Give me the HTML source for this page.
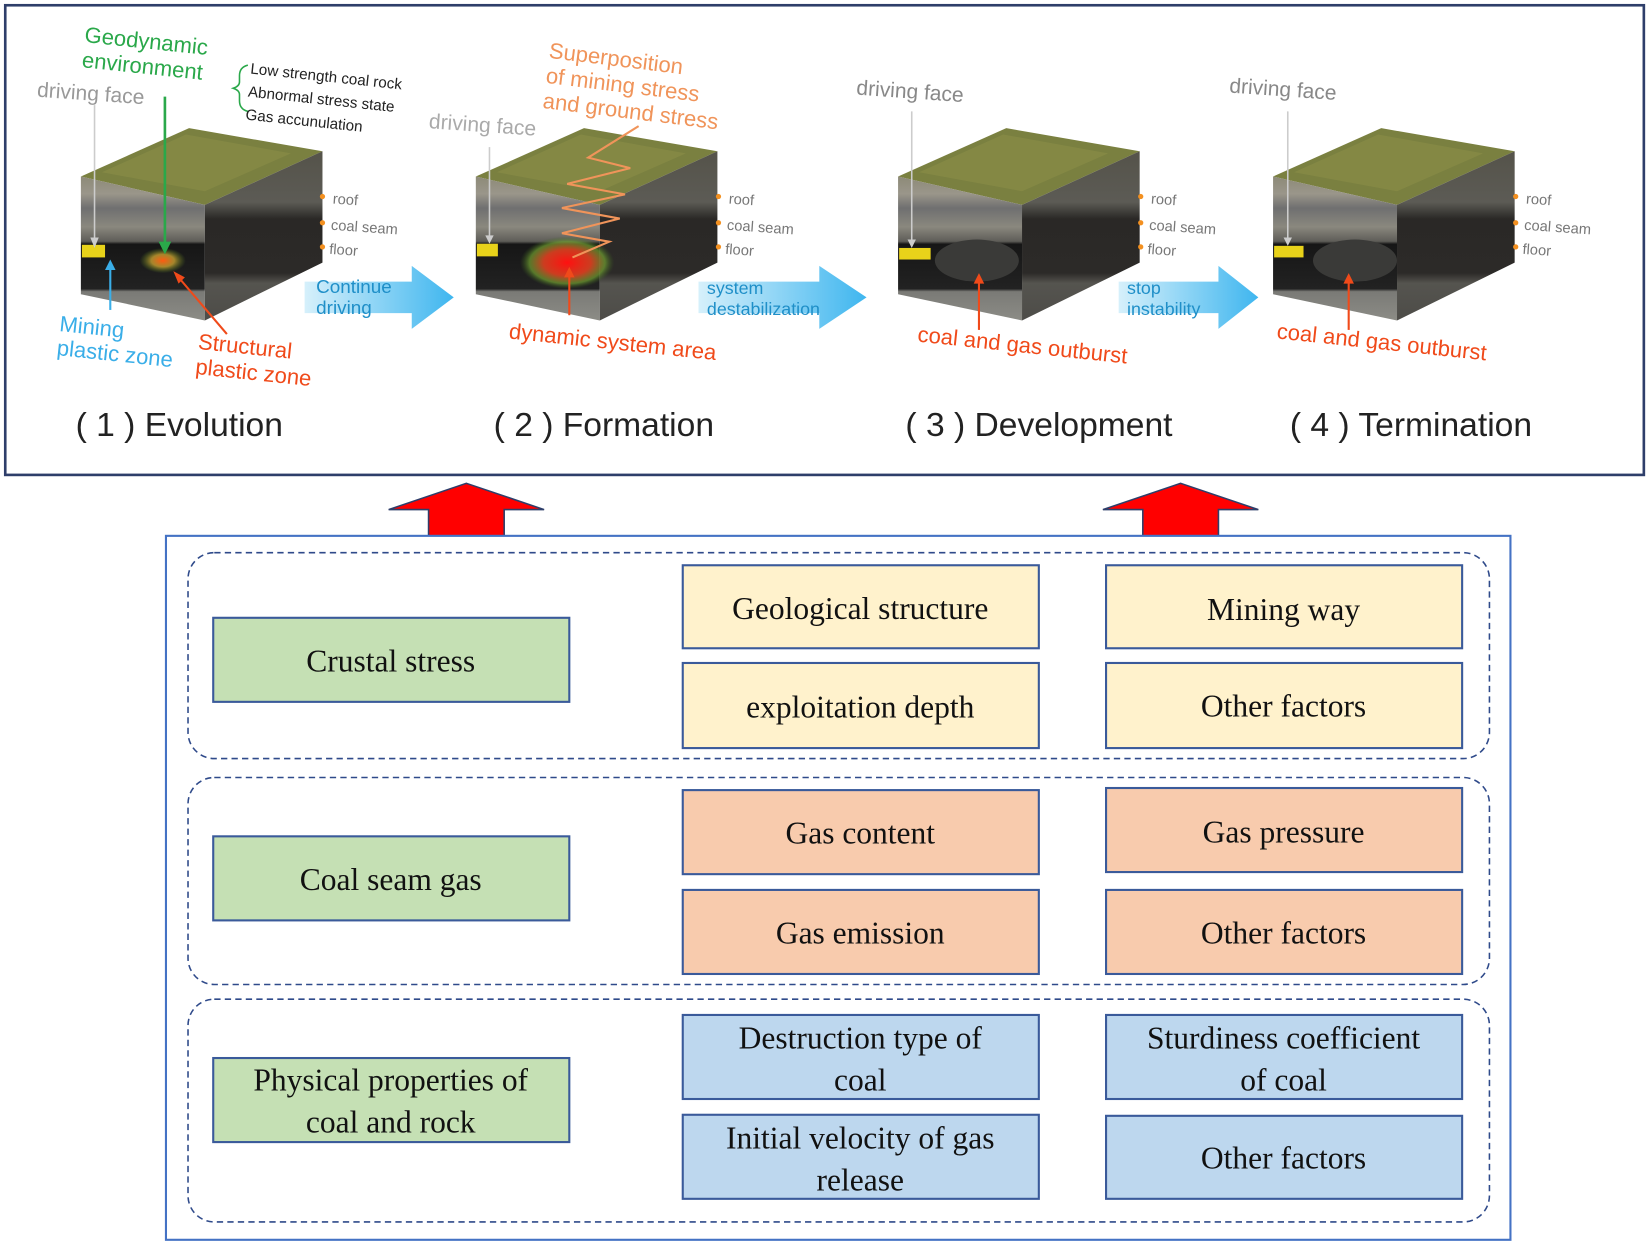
<!DOCTYPE html>
<html><head><meta charset="utf-8"><style>
html,body{margin:0;padding:0;background:#fff;}
svg{display:block;}
.s{font-family:"Liberation Sans",sans-serif;}
.t{font-family:"Liberation Serif",serif;font-size:30px;fill:#111;text-anchor:middle;}
</style></head><body>
<svg width="1647" height="1244" viewBox="0 0 1568 1184" preserveAspectRatio="none" xmlns="http://www.w3.org/2000/svg">
<defs>
<linearGradient id="fr" x1="0" y1="0" x2="0" y2="1">
<stop offset="0" stop-color="#8d8a78"/><stop offset="0.12" stop-color="#9a968a"/>
<stop offset="0.22" stop-color="#6f6f70"/><stop offset="0.35" stop-color="#8a887e"/>
<stop offset="0.45" stop-color="#5e5d58"/><stop offset="0.47" stop-color="#161616"/>
<stop offset="0.78" stop-color="#222"/><stop offset="0.8" stop-color="#7a7a76"/>
<stop offset="1" stop-color="#8c8c86"/></linearGradient>
<linearGradient id="sd" x1="0" y1="0" x2="0" y2="1">
<stop offset="0" stop-color="#55534a"/><stop offset="0.3" stop-color="#5c5b55"/>
<stop offset="0.4" stop-color="#2a2826"/><stop offset="0.72" stop-color="#2c2a28"/>
<stop offset="0.78" stop-color="#55544f"/><stop offset="1" stop-color="#4d4c48"/></linearGradient>
<linearGradient id="ar" x1="0" y1="0" x2="1" y2="0">
<stop offset="0" stop-color="#d6f0fb"/><stop offset="1" stop-color="#3fb6ef"/></linearGradient>
<radialGradient id="hot1"><stop offset="0" stop-color="#ff5a10"/><stop offset="0.5" stop-color="#c8a030" stop-opacity="0.8"/><stop offset="1" stop-color="#5a8a20" stop-opacity="0"/></radialGradient>
<radialGradient id="hot2"><stop offset="0" stop-color="#ff1010"/><stop offset="0.5" stop-color="#e04020" stop-opacity="0.9"/><stop offset="0.8" stop-color="#70a030" stop-opacity="0.7"/><stop offset="1" stop-color="#3a6020" stop-opacity="0"/></radialGradient>
<g id="cube">
<polygon points="0,0 103,-46 230,-24 118,27" fill="#7a8040"/>
<polygon points="20,-4 100,-40 200,-22 118,14" fill="#8a8e48" opacity="0.6"/>
<polygon points="0,0 118,27 118,137 0,112" fill="url(#fr)"/>
<polygon points="118,27 230,-24 230,82 118,137" fill="url(#sd)"/>
</g>
<g id="lbl" class="s" font-size="14" fill="#777">
<circle cx="0" cy="0" r="2.5" fill="#f39020"/><circle cx="0" cy="25" r="2.5" fill="#f39020"/><circle cx="0" cy="48" r="2.5" fill="#f39020"/>
<text x="10" y="6" transform="rotate(4)">roof</text><text x="10" y="31" transform="rotate(4)">coal seam</text><text x="10" y="54" transform="rotate(4)">floor</text>
</g>
</defs>
<rect x="5" y="5" width="1560" height="447" fill="#fff" stroke="#2e3e6a" stroke-width="2.5"/>

<!-- block 1 -->
<use href="#cube" x="77" y="168"/>
<ellipse cx="155" cy="248" rx="22" ry="12" fill="url(#hot1)"/>
<rect x="78" y="233" width="22" height="12" fill="#e8d21a"/>
<use href="#lbl" x="307" y="187"/>
<text class="s" font-size="20" fill="#999" x="35" y="92" transform="rotate(4 35 92)">driving face</text>
<line x1="90" y1="100" x2="90" y2="228" stroke="#ccc" stroke-width="1.5"/><polygon points="86,226 94,226 90,236" fill="#ccc"/>
<text class="s" font-size="21" fill="#2aa84a" transform="rotate(6 80 40)"><tspan x="80" y="40">Geodynamic</tspan><tspan x="80" y="64">environment</tspan></text>
<line x1="157" y1="92" x2="157" y2="232" stroke="#2aa84a" stroke-width="2.5"/><polygon points="151,230 163,230 157,242" fill="#2aa84a"/>
<path d="M236,62 q-8,2 -8,10 v6 q0,4 -6,6 q6,2 6,6 v6 q0,8 8,10" fill="none" stroke="#2aa84a" stroke-width="1.5"/>
<text class="s" font-size="14.5" fill="#222" transform="rotate(6 238 70)"><tspan x="238" y="70">Low strength coal rock</tspan><tspan x="238" y="92">Abnormal stress state</tspan><tspan x="238" y="114">Gas accunulation</tspan></text>
<line x1="105" y1="295" x2="105" y2="255" stroke="#3aaee8" stroke-width="2"/><polygon points="100,257 110,257 105,247" fill="#3aaee8"/>
<text class="s" font-size="21" fill="#3aaee8" transform="rotate(6 56 315)"><tspan x="56" y="315">Mining</tspan><tspan x="56" y="338">plastic zone</tspan></text>
<line x1="216" y1="318" x2="170" y2="264" stroke="#f04a1a" stroke-width="2"/><polygon points="165,258 176,264 170,270" fill="#f04a1a"/>
<text class="s" font-size="21" fill="#f04a1a" transform="rotate(6 188 332)"><tspan x="188" y="332">Structural</tspan><tspan x="188" y="356">plastic zone</tspan></text>
<polygon points="290,268 392,268 392,253 432,283 392,313 392,298 290,298" fill="url(#ar)"/>
<text class="s" font-size="18" fill="#1f8fc8"><tspan x="301" y="279">Continue</tspan><tspan x="301" y="299">driving</tspan></text>
<text class="s" font-size="32" fill="#222" x="72" y="415">( 1 ) Evolution</text>

<!-- block 2 -->
<use href="#cube" x="453" y="168"/>
<ellipse cx="540" cy="250" rx="45" ry="25" fill="url(#hot2)"/>
<rect x="454" y="232" width="20" height="12" fill="#e8d21a"/>
<use href="#lbl" x="684" y="187"/>
<text class="s" font-size="20" fill="#aaa" x="408" y="122" transform="rotate(4 408 122)">driving face</text>
<line x1="466" y1="140" x2="466" y2="226" stroke="#ccc" stroke-width="1.5"/><polygon points="462,224 470,224 466,232" fill="#ccc"/>
<text class="s" font-size="21" fill="#f0945a" transform="rotate(7 522 55)"><tspan x="522" y="55">Superposition</tspan><tspan x="522" y="79">of mining stress</tspan><tspan x="522" y="103">and ground stress</tspan></text>
<path d="M608,120 L560,150 L600,160 L540,175 L595,185 L535,198 L590,208 L535,222 L580,230 L545,245" fill="none" stroke="#f0945a" stroke-width="2"/>
<line x1="542" y1="300" x2="542" y2="262" stroke="#f04a1a" stroke-width="2"/><polygon points="537,264 547,264 542,254" fill="#f04a1a"/>
<text class="s" font-size="21" fill="#f04a1a" x="484" y="322" transform="rotate(6 484 322)">dynamic system area</text>
<polygon points="665,268 780,268 780,253 825,283 780,313 780,298 665,298" fill="url(#ar)"/>
<text class="s" font-size="17" fill="#1f8fc8"><tspan x="673" y="280">system</tspan><tspan x="673" y="300">destabilization</tspan></text>
<text class="s" font-size="32" fill="#222" x="470" y="415">( 2 ) Formation</text>

<!-- block 3 -->
<use href="#cube" x="855" y="168"/>
<ellipse cx="930" cy="248" rx="40" ry="20" fill="#3a3a38"/>
<rect x="856" y="236" width="30" height="11" fill="#e8d21a"/>
<use href="#lbl" x="1086" y="187"/>
<text class="s" font-size="20" fill="#888" x="815" y="90" transform="rotate(4 815 90)">driving face</text>
<line x1="868" y1="106" x2="868" y2="230" stroke="#ccc" stroke-width="1.5"/><polygon points="864,228 872,228 868,236" fill="#ccc"/>
<line x1="932" y1="314" x2="932" y2="268" stroke="#f04a1a" stroke-width="2"/><polygon points="927,270 937,270 932,260" fill="#f04a1a"/>
<text class="s" font-size="21" fill="#f04a1a" x="873" y="325" transform="rotate(6 873 325)">coal and gas outburst</text>
<polygon points="1065,268 1160,268 1160,253 1198,283 1160,313 1160,298 1065,298" fill="url(#ar)"/>
<text class="s" font-size="17" fill="#1f8fc8"><tspan x="1073" y="280">stop</tspan><tspan x="1073" y="300">instability</tspan></text>
<text class="s" font-size="32" fill="#222" x="862" y="415">( 3 ) Development</text>

<!-- block 4 -->
<use href="#cube" x="1212" y="168"/>
<ellipse cx="1290" cy="248" rx="40" ry="20" fill="#3a3a38"/>
<rect x="1213" y="234" width="28" height="11" fill="#e8d21a"/>
<use href="#lbl" x="1443" y="187"/>
<text class="s" font-size="20" fill="#888" x="1170" y="88" transform="rotate(4 1170 88)">driving face</text>
<line x1="1226" y1="106" x2="1226" y2="228" stroke="#ccc" stroke-width="1.5"/><polygon points="1222,226 1230,226 1226,234" fill="#ccc"/>
<line x1="1284" y1="314" x2="1284" y2="268" stroke="#f04a1a" stroke-width="2"/><polygon points="1279,270 1289,270 1284,260" fill="#f04a1a"/>
<text class="s" font-size="21" fill="#f04a1a" x="1215" y="322" transform="rotate(6 1215 322)">coal and gas outburst</text>
<text class="s" font-size="32" fill="#222" x="1228" y="415">( 4 ) Termination</text>

<!-- red arrows -->
<polygon points="444,460 518,485 480,485 480,510 408,510 408,485 370,485" fill="#ff0000" stroke="#2e3e6a" stroke-width="1.5"/>
<polygon points="1124,460 1198,485 1160,485 1160,510 1088,510 1088,485 1050,485" fill="#ff0000" stroke="#2e3e6a" stroke-width="1.5"/>

<!-- bottom panel -->
<rect x="158" y="510" width="1280" height="670" fill="#fff" stroke="#4472c4" stroke-width="2"/>
<g fill="none" stroke="#2f4a8a" stroke-width="1.5" stroke-dasharray="6,4">
<rect x="179" y="526" width="1239" height="196" rx="25"/>
<rect x="179" y="740" width="1239" height="197" rx="25"/>
<rect x="179" y="951" width="1239" height="212" rx="25"/>
</g>
<g stroke="#3a5a9a" stroke-width="2">
<rect x="203" y="588" width="339" height="80" fill="#c5e0b4"/>
<rect x="203" y="796" width="339" height="80" fill="#c5e0b4"/>
<rect x="203" y="1007" width="339" height="80" fill="#c5e0b4"/>
<rect x="650" y="538" width="339" height="79" fill="#fff2cc"/>
<rect x="650" y="631" width="339" height="81" fill="#fff2cc"/>
<rect x="1053" y="538" width="339" height="79" fill="#fff2cc"/>
<rect x="1053" y="631" width="339" height="81" fill="#fff2cc"/>
<rect x="650" y="752" width="339" height="80" fill="#f8cbad"/>
<rect x="650" y="847" width="339" height="80" fill="#f8cbad"/>
<rect x="1053" y="750" width="339" height="80" fill="#f8cbad"/>
<rect x="1053" y="847" width="339" height="80" fill="#f8cbad"/>
<rect x="650" y="966" width="339" height="80" fill="#bdd7ee"/>
<rect x="650" y="1061" width="339" height="80" fill="#bdd7ee"/>
<rect x="1053" y="966" width="339" height="80" fill="#bdd7ee"/>
<rect x="1053" y="1062" width="339" height="79" fill="#bdd7ee"/>
</g>
<text class="t" x="372" y="639">Crustal stress</text>
<text class="t" x="372" y="847">Coal seam gas</text>
<text class="t" x="372" y="1038">Physical properties of</text>
<text class="t" x="372" y="1078">coal and rock</text>
<text class="t" x="819" y="589">Geological structure</text>
<text class="t" x="819" y="683">exploitation depth</text>
<text class="t" x="1222" y="590">Mining way</text>
<text class="t" x="1222" y="682">Other factors</text>
<text class="t" x="819" y="803">Gas content</text>
<text class="t" x="819" y="898">Gas emission</text>
<text class="t" x="1222" y="802">Gas pressure</text>
<text class="t" x="1222" y="898">Other factors</text>
<text class="t" x="819" y="998">Destruction type of</text>
<text class="t" x="819" y="1038">coal</text>
<text class="t" x="819" y="1093">Initial velocity of gas</text>
<text class="t" x="819" y="1133">release</text>
<text class="t" x="1222" y="998">Sturdiness coefficient</text>
<text class="t" x="1222" y="1038">of coal</text>
<text class="t" x="1222" y="1112">Other factors</text>
</svg>
</body></html>
